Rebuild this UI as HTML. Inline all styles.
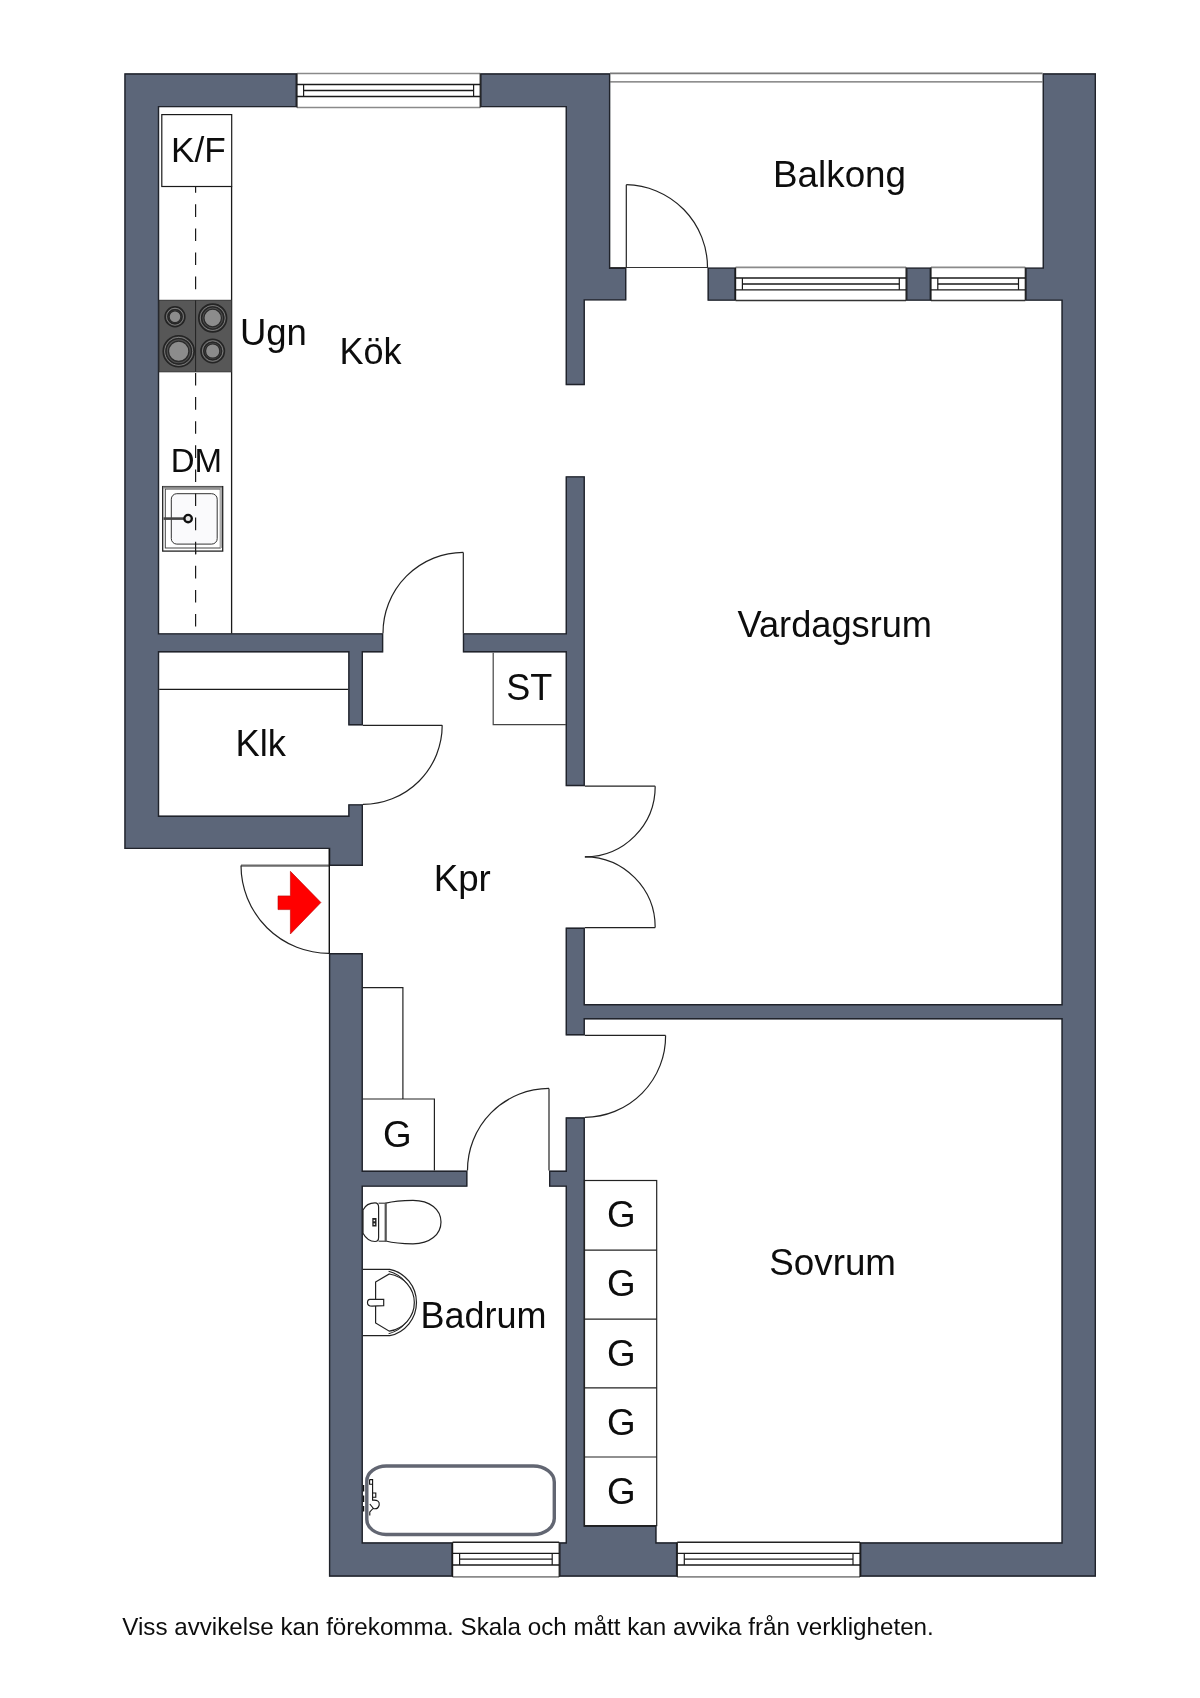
<!DOCTYPE html><html><head><meta charset="utf-8"><title>Floor plan</title>
<style>html,body{margin:0;padding:0;background:#fff;}body{width:1200px;height:1698px;overflow:hidden;}svg{display:block;}text{font-family:"Liberation Sans",sans-serif;fill:#0d0d0d;}</style></head><body>
<svg width="1200" height="1698" viewBox="0 0 1200 1698">
<rect width="1200" height="1698" fill="#fff"/>
<defs><clipPath id="wc"><path d="M124.30 73.30 L124.30 107.30 L124.30 815.60 L124.30 849.10 L159.20 849.10 L328.90 849.10 L328.90 866.00 L363.00 866.00 L363.00 849.10 L363.00 815.80 L363.00 815.60 L363.00 804.20 L348.20 804.20 L348.20 815.60 L328.90 815.60 L159.20 815.60 L159.20 652.50 L348.20 652.50 L348.20 725.50 L363.00 725.50 L363.00 652.50 L383.30 652.50 L383.30 633.20 L159.20 633.20 L159.20 107.30 L296.90 107.30 L296.90 73.30 L159.20 73.30 Z  M565.60 73.30 L480.20 73.30 L480.20 107.30 L565.60 107.30 L565.60 267.50 L565.60 300.60 L565.60 385.20 L584.90 385.20 L584.90 300.60 L626.40 300.60 L626.40 267.50 L610.30 267.50 L610.30 107.30 L610.30 73.30 Z  M565.60 652.50 L565.60 786.20 L584.90 786.20 L584.90 476.20 L565.60 476.20 L565.60 633.20 L462.80 633.20 L462.80 652.50 Z  M362.90 953.00 L328.90 953.00 L328.90 1542.30 L328.90 1576.70 L362.90 1576.70 L452.60 1576.70 L452.60 1542.30 L362.90 1542.30 L362.90 1186.80 L467.50 1186.80 L467.50 1170.60 L362.90 1170.60 Z  M549.00 1170.60 L549.00 1186.80 L565.60 1186.80 L565.60 1525.60 L565.60 1542.30 L559.20 1542.30 L559.20 1576.70 L565.60 1576.70 L656.60 1576.70 L677.30 1576.70 L677.30 1542.30 L656.60 1542.30 L656.60 1525.60 L584.90 1525.60 L584.90 1117.30 L565.60 1117.30 L565.60 1170.60 Z  M1096.00 73.30 L1042.60 73.30 L1042.60 267.40 L1025.30 267.40 L1025.30 300.80 L1042.60 300.80 L1061.40 300.80 L1061.40 1004.00 L584.90 1004.00 L584.90 927.60 L565.60 927.60 L565.60 1035.40 L584.90 1035.40 L584.90 1019.50 L1061.40 1019.50 L1061.40 1542.30 L860.00 1542.30 L860.00 1576.70 L1061.40 1576.70 L1096.00 1576.70 L1096.00 1542.30 L1096.00 300.80 L1096.00 267.40 Z  M707.50 267.40 L707.50 300.80 L735.60 300.80 L735.60 267.40 Z  M906.10 267.40 L906.10 300.80 L931.00 300.80 L931.00 267.40 Z " fill-rule="evenodd"/></clipPath></defs>
<path d="M124.30 73.30 L124.30 107.30 L124.30 815.60 L124.30 849.10 L159.20 849.10 L328.90 849.10 L328.90 866.00 L363.00 866.00 L363.00 849.10 L363.00 815.80 L363.00 815.60 L363.00 804.20 L348.20 804.20 L348.20 815.60 L328.90 815.60 L159.20 815.60 L159.20 652.50 L348.20 652.50 L348.20 725.50 L363.00 725.50 L363.00 652.50 L383.30 652.50 L383.30 633.20 L159.20 633.20 L159.20 107.30 L296.90 107.30 L296.90 73.30 L159.20 73.30 Z  M565.60 73.30 L480.20 73.30 L480.20 107.30 L565.60 107.30 L565.60 267.50 L565.60 300.60 L565.60 385.20 L584.90 385.20 L584.90 300.60 L626.40 300.60 L626.40 267.50 L610.30 267.50 L610.30 107.30 L610.30 73.30 Z  M565.60 652.50 L565.60 786.20 L584.90 786.20 L584.90 476.20 L565.60 476.20 L565.60 633.20 L462.80 633.20 L462.80 652.50 Z  M362.90 953.00 L328.90 953.00 L328.90 1542.30 L328.90 1576.70 L362.90 1576.70 L452.60 1576.70 L452.60 1542.30 L362.90 1542.30 L362.90 1186.80 L467.50 1186.80 L467.50 1170.60 L362.90 1170.60 Z  M549.00 1170.60 L549.00 1186.80 L565.60 1186.80 L565.60 1525.60 L565.60 1542.30 L559.20 1542.30 L559.20 1576.70 L565.60 1576.70 L656.60 1576.70 L677.30 1576.70 L677.30 1542.30 L656.60 1542.30 L656.60 1525.60 L584.90 1525.60 L584.90 1117.30 L565.60 1117.30 L565.60 1170.60 Z  M1096.00 73.30 L1042.60 73.30 L1042.60 267.40 L1025.30 267.40 L1025.30 300.80 L1042.60 300.80 L1061.40 300.80 L1061.40 1004.00 L584.90 1004.00 L584.90 927.60 L565.60 927.60 L565.60 1035.40 L584.90 1035.40 L584.90 1019.50 L1061.40 1019.50 L1061.40 1542.30 L860.00 1542.30 L860.00 1576.70 L1061.40 1576.70 L1096.00 1576.70 L1096.00 1542.30 L1096.00 300.80 L1096.00 267.40 Z  M707.50 267.40 L707.50 300.80 L735.60 300.80 L735.60 267.40 Z  M906.10 267.40 L906.10 300.80 L931.00 300.80 L931.00 267.40 Z " fill-rule="evenodd" fill="#5c6679" stroke="#20232b" stroke-width="2.8" clip-path="url(#wc)"/>
<rect x="297" y="73.5" width="183.2" height="34.0" fill="#fff"/>
<line x1="297" y1="73.5" x2="480.2" y2="73.5" stroke="#8a8a8a" stroke-width="1.6"/>
<line x1="297" y1="107.5" x2="480.2" y2="107.5" stroke="#8a8a8a" stroke-width="1.6"/>
<line x1="297" y1="84.5" x2="480.2" y2="84.5" stroke="#1a1a1a" stroke-width="1.3"/>
<line x1="297" y1="96.5" x2="480.2" y2="96.5" stroke="#1a1a1a" stroke-width="1.3"/>
<line x1="303.6" y1="90.5" x2="473.59999999999997" y2="90.5" stroke="#1a1a1a" stroke-width="1.3"/>
<line x1="303.6" y1="84.5" x2="303.6" y2="96.5" stroke="#1a1a1a" stroke-width="1.2"/>
<line x1="473.59999999999997" y1="84.5" x2="473.59999999999997" y2="96.5" stroke="#1a1a1a" stroke-width="1.2"/>
<line x1="297" y1="73.5" x2="297" y2="107.5" stroke="#1a1a1a" stroke-width="1.2"/>
<line x1="480.2" y1="73.5" x2="480.2" y2="107.5" stroke="#1a1a1a" stroke-width="1.2"/>
<rect x="735.6" y="267.4" width="170.5" height="33.10000000000002" fill="#fff"/>
<line x1="735.6" y1="267.4" x2="906.1" y2="267.4" stroke="#8a8a8a" stroke-width="1.6"/>
<line x1="735.6" y1="300.5" x2="906.1" y2="300.5" stroke="#333" stroke-width="1.6"/>
<line x1="735.6" y1="278" x2="906.1" y2="278" stroke="#1a1a1a" stroke-width="1.3"/>
<line x1="735.6" y1="289.8" x2="906.1" y2="289.8" stroke="#1a1a1a" stroke-width="1.3"/>
<line x1="742.4" y1="284" x2="899.3000000000001" y2="284" stroke="#1a1a1a" stroke-width="1.3"/>
<line x1="742.4" y1="278" x2="742.4" y2="289.8" stroke="#1a1a1a" stroke-width="1.2"/>
<line x1="899.3000000000001" y1="278" x2="899.3000000000001" y2="289.8" stroke="#1a1a1a" stroke-width="1.2"/>
<line x1="735.6" y1="267.4" x2="735.6" y2="300.5" stroke="#1a1a1a" stroke-width="1.2"/>
<line x1="906.1" y1="267.4" x2="906.1" y2="300.5" stroke="#1a1a1a" stroke-width="1.2"/>
<rect x="931" y="267.4" width="94.29999999999995" height="33.10000000000002" fill="#fff"/>
<line x1="931" y1="267.4" x2="1025.3" y2="267.4" stroke="#8a8a8a" stroke-width="1.6"/>
<line x1="931" y1="300.5" x2="1025.3" y2="300.5" stroke="#333" stroke-width="1.6"/>
<line x1="931" y1="278" x2="1025.3" y2="278" stroke="#1a1a1a" stroke-width="1.3"/>
<line x1="931" y1="289.8" x2="1025.3" y2="289.8" stroke="#1a1a1a" stroke-width="1.3"/>
<line x1="937.8" y1="284" x2="1018.5" y2="284" stroke="#1a1a1a" stroke-width="1.3"/>
<line x1="937.8" y1="278" x2="937.8" y2="289.8" stroke="#1a1a1a" stroke-width="1.2"/>
<line x1="1018.5" y1="278" x2="1018.5" y2="289.8" stroke="#1a1a1a" stroke-width="1.2"/>
<line x1="931" y1="267.4" x2="931" y2="300.5" stroke="#1a1a1a" stroke-width="1.2"/>
<line x1="1025.3" y1="267.4" x2="1025.3" y2="300.5" stroke="#1a1a1a" stroke-width="1.2"/>
<rect x="452.6" y="1542.3" width="106.60000000000002" height="34.600000000000136" fill="#fff"/>
<line x1="452.6" y1="1576.9" x2="559.2" y2="1576.9" stroke="#8a8a8a" stroke-width="1.6"/>
<line x1="452.6" y1="1542.3" x2="559.2" y2="1542.3" stroke="#222" stroke-width="1.6"/>
<line x1="452.6" y1="1565.0" x2="559.2" y2="1565.0" stroke="#1a1a1a" stroke-width="1.3"/>
<line x1="452.6" y1="1553.3" x2="559.2" y2="1553.3" stroke="#1a1a1a" stroke-width="1.3"/>
<line x1="459.6" y1="1559.2" x2="552.2" y2="1559.2" stroke="#1a1a1a" stroke-width="1.3"/>
<line x1="459.6" y1="1565.0" x2="459.6" y2="1553.3" stroke="#1a1a1a" stroke-width="1.2"/>
<line x1="552.2" y1="1565.0" x2="552.2" y2="1553.3" stroke="#1a1a1a" stroke-width="1.2"/>
<line x1="452.6" y1="1542.3" x2="452.6" y2="1576.9" stroke="#1a1a1a" stroke-width="1.2"/>
<line x1="559.2" y1="1542.3" x2="559.2" y2="1576.9" stroke="#1a1a1a" stroke-width="1.2"/>
<rect x="677.3" y="1542.3" width="182.70000000000005" height="34.600000000000136" fill="#fff"/>
<line x1="677.3" y1="1576.9" x2="860" y2="1576.9" stroke="#8a8a8a" stroke-width="1.6"/>
<line x1="677.3" y1="1542.3" x2="860" y2="1542.3" stroke="#222" stroke-width="1.6"/>
<line x1="677.3" y1="1565.0" x2="860" y2="1565.0" stroke="#1a1a1a" stroke-width="1.3"/>
<line x1="677.3" y1="1553.3" x2="860" y2="1553.3" stroke="#1a1a1a" stroke-width="1.3"/>
<line x1="684.3" y1="1559.2" x2="853" y2="1559.2" stroke="#1a1a1a" stroke-width="1.3"/>
<line x1="684.3" y1="1565.0" x2="684.3" y2="1553.3" stroke="#1a1a1a" stroke-width="1.2"/>
<line x1="853" y1="1565.0" x2="853" y2="1553.3" stroke="#1a1a1a" stroke-width="1.2"/>
<line x1="677.3" y1="1542.3" x2="677.3" y2="1576.9" stroke="#1a1a1a" stroke-width="1.2"/>
<line x1="860" y1="1542.3" x2="860" y2="1576.9" stroke="#1a1a1a" stroke-width="1.2"/>
<line x1="610" y1="73.4" x2="1042.6" y2="73.4" stroke="#7a7a7a" stroke-width="1.6"/>
<line x1="610" y1="81.9" x2="1042.6" y2="81.9" stroke="#6a6a6a" stroke-width="1.4"/>
<line x1="610" y1="267.5" x2="708" y2="267.5" stroke="#333" stroke-width="1.2"/>
<line x1="626.3" y1="267.5" x2="626.3" y2="184.7" stroke="#222" stroke-width="1.2"/><path d="M626.3 184.7 A82.8 82.8 0 0 1 707.5 267.5" fill="none" stroke="#222" stroke-width="1.2"/>
<line x1="463.3" y1="633.2" x2="463.3" y2="552.4" stroke="#222" stroke-width="1.2"/><path d="M463.3 552.4 A80.6 80.6 0 0 0 383.0 633.2" fill="none" stroke="#222" stroke-width="1.2"/>
<line x1="363.0" y1="725.3" x2="442.2" y2="725.3" stroke="#222" stroke-width="1.2"/><path d="M442.2 725.3 A79.1 79.1 0 0 1 363.0 804.3" fill="none" stroke="#222" stroke-width="1.2"/>
<line x1="241" y1="865.6" x2="329.2" y2="865.6" stroke="#6a6a6a" stroke-width="2.2"/>
<path d="M241 865.6 A88 88 0 0 0 329.2 953.3" fill="none" stroke="#222" stroke-width="1.2"/>
<line x1="329.3" y1="849.1" x2="329.3" y2="953.3" stroke="#111" stroke-width="1.4"/>
<line x1="584.9" y1="786.2" x2="655.2" y2="786.2" stroke="#222" stroke-width="1.2"/><path d="M655.2 786.2 A70.5 70.5 0 0 1 584.9 856.9" fill="none" stroke="#222" stroke-width="1.2"/>
<line x1="584.9" y1="927.6" x2="655.2" y2="927.6" stroke="#222" stroke-width="1.2"/><path d="M655.2 927.6 A70.5 70.5 0 0 0 584.9 856.9" fill="none" stroke="#222" stroke-width="1.2"/>
<line x1="584.9" y1="1035.4" x2="665.6" y2="1035.4" stroke="#222" stroke-width="1.2"/><path d="M665.6 1035.4 A81.3 81.3 0 0 1 584.9 1117.3" fill="none" stroke="#222" stroke-width="1.2"/>
<line x1="549" y1="1170.6" x2="549" y2="1088.4" stroke="#222" stroke-width="1.2"/><path d="M549 1088.4 A81.8 81.8 0 0 0 467.5 1170.6" fill="none" stroke="#222" stroke-width="1.2"/>
<g fill="none" stroke="#1a1a1a" stroke-width="1.2">
<rect x="161.8" y="114.6" width="69.9" height="71.9" fill="#fff"/>
</g>
<line x1="231.6" y1="186.5" x2="231.6" y2="633.5" stroke="#1a1a1a" stroke-width="1.3"/>
<line x1="195.6" y1="186.5" x2="195.6" y2="633.5" stroke="#1a1a1a" stroke-width="1.2" stroke-dasharray="12.6 11.5" stroke-dashoffset="6.3"/>
<rect x="159.2" y="300.3" width="72.3" height="71.5" fill="#575757" stroke="#333" stroke-width="1"/>
<line x1="195.6" y1="300.3" x2="195.6" y2="371.8" stroke="#222" stroke-width="1"/>
<circle cx="175.0" cy="316.7" r="9.899999999999999" fill="#4a4a4a" stroke="#242424" stroke-width="1.6"/><circle cx="175.0" cy="316.7" r="8.399999999999999" fill="none" stroke="#7c7c7c" stroke-width="1.0"/><circle cx="175.0" cy="316.7" r="7.1" fill="#505050" stroke="#262626" stroke-width="1.4"/><circle cx="175.0" cy="316.7" r="5.9" fill="#8c8c8c" stroke="#2a2a2a" stroke-width="1.3"/>
<circle cx="212.7" cy="318.0" r="13.899999999999999" fill="#4a4a4a" stroke="#242424" stroke-width="1.6"/><circle cx="212.7" cy="318.0" r="12.399999999999999" fill="none" stroke="#7c7c7c" stroke-width="1.0"/><circle cx="212.7" cy="318.0" r="11.1" fill="#505050" stroke="#262626" stroke-width="1.4"/><circle cx="212.7" cy="318.0" r="8.8" fill="#8c8c8c" stroke="#2a2a2a" stroke-width="1.3"/>
<circle cx="178.7" cy="351.3" r="15.5" fill="#4a4a4a" stroke="#242424" stroke-width="1.6"/><circle cx="178.7" cy="351.3" r="14.0" fill="none" stroke="#7c7c7c" stroke-width="1.0"/><circle cx="178.7" cy="351.3" r="12.700000000000001" fill="#505050" stroke="#262626" stroke-width="1.4"/><circle cx="178.7" cy="351.3" r="10.2" fill="#8c8c8c" stroke="#2a2a2a" stroke-width="1.3"/>
<circle cx="212.7" cy="351.0" r="11.7" fill="#4a4a4a" stroke="#242424" stroke-width="1.6"/><circle cx="212.7" cy="351.0" r="10.2" fill="none" stroke="#7c7c7c" stroke-width="1.0"/><circle cx="212.7" cy="351.0" r="8.9" fill="#505050" stroke="#262626" stroke-width="1.4"/><circle cx="212.7" cy="351.0" r="7.2" fill="#8c8c8c" stroke="#2a2a2a" stroke-width="1.3"/>
<rect x="162.7" y="486.6" width="60" height="64.5" fill="#fff" stroke="#222" stroke-width="1.3"/>
<rect x="165.3" y="489" width="55" height="59" fill="none" stroke="#444" stroke-width="1"/>
<line x1="163" y1="487.5" x2="222" y2="487.5" stroke="#888" stroke-width="2"/>
<line x1="221" y1="488" x2="221" y2="548" stroke="#aaa" stroke-width="2"/>
<rect x="171.3" y="493.7" width="45.9" height="50.4" rx="5.5" fill="#fafafc" stroke="#333" stroke-width="1"/>
<line x1="163.5" y1="518.6" x2="185" y2="518.6" stroke="#444" stroke-width="2.6"/>
<circle cx="188.1" cy="518.6" r="3.7" fill="#e8e8e8" stroke="#111" stroke-width="2.4"/>
<line x1="195.6" y1="486.6" x2="195.6" y2="560" stroke="#1a1a1a" stroke-width="1.2" stroke-dasharray="12.6 11.5" stroke-dashoffset="17.2"/>
<line x1="159.2" y1="689.3" x2="348.2" y2="689.3" stroke="#1a1a1a" stroke-width="1.3"/>
<path d="M493.2 652.7 V724.6 H566" fill="none" stroke="#444" stroke-width="1.2"/>
<path d="M362.7 987.6 H402.9 V1099" fill="none" stroke="#222" stroke-width="1.2"/>
<path d="M362.7 1099 H434.4 V1170.6" fill="none" stroke="#222" stroke-width="1.2"/>
<rect x="584.5" y="1180.5" width="72.2" height="345.1" fill="#fff" stroke="#222" stroke-width="1.2"/>
<line x1="584.5" y1="1250.1" x2="656.7" y2="1250.1" stroke="#222" stroke-width="1.2"/>
<line x1="584.5" y1="1319.2" x2="656.7" y2="1319.2" stroke="#222" stroke-width="1.2"/>
<line x1="584.5" y1="1387.8" x2="656.7" y2="1387.8" stroke="#222" stroke-width="1.2"/>
<line x1="584.5" y1="1457.0" x2="656.7" y2="1457.0" stroke="#222" stroke-width="1.2"/>
<path d="M385.8 1203.2 C395 1200.6 403 1200.3 413 1200.3 C430 1200.3 441 1209.5 441 1222 C441 1234.5 430 1243.8 413 1243.8 C403 1243.8 395 1243.5 385.8 1241 Z" fill="#fff" stroke="#222" stroke-width="1.2"/>
<path d="M375 1202.9 H375 Q378.6 1202.9 378.6 1207 V1237.5 Q378.6 1241.5 375 1241.5 C369 1241.5 365 1237 363 1233.3 V1210 C365 1206 369 1202.9 375 1202.9 Z" fill="#fff" stroke="#222" stroke-width="1.2"/>
<line x1="378.6" y1="1203.2" x2="385.8" y2="1203.2" stroke="#333" stroke-width="1.1"/>
<line x1="378.6" y1="1241.2" x2="385.8" y2="1241.2" stroke="#333" stroke-width="1.1"/>
<line x1="385.6" y1="1203" x2="385.6" y2="1241.5" stroke="#555" stroke-width="2.0"/>
<rect x="372.3" y="1218" width="4.2" height="8.5" fill="#222"/>
<rect x="373.6" y="1219.8" width="1.5" height="1.5" fill="#fff"/><rect x="373.6" y="1223.4" width="1.5" height="1.5" fill="#fff"/>
<path d="M363 1269.3 H389.8 A34 34 0 0 1 389.8 1335.7 H363" fill="#fff" stroke="#222" stroke-width="1.2"/>
<path d="M388.6 1271.3 A32.2 32.2 0 0 1 388.6 1333.7" fill="none" stroke="#222" stroke-width="1.1"/>
<path d="M375.6 1282.1 L389.3 1274 A30 29 0 0 1 389.3 1331.2 L375.6 1322.9 Z" fill="#fff" stroke="#222" stroke-width="1.2"/>
<path d="M370 1299.4 H383.7 V1305.6 L372 1306.2 Q367.5 1306.2 367.5 1302.8 Q367.5 1299.4 370 1299.4 Z" fill="#fff" stroke="#222" stroke-width="1.2"/>
<path d="M386.5 1466 H533 A21 16 0 0 1 554.3 1482 V1518.5 A21 16 0 0 1 533 1534.5 H386 A19.5 15 0 0 1 366.8 1519.5 V1481 A19.5 15 0 0 1 386.5 1466 Z" fill="none" stroke="#626672" stroke-width="3.4"/>
<path d="M369.6 1479.6 H372.6 V1500.2 Q380 1499.6 379.2 1505 Q378 1509.6 373.5 1508.6 L369.8 1504 M369.6 1479.6 V1484.2 H372.6 M372.6 1493 H375.8 V1497.2 H372.6 M373 1508.5 L369.8 1512 V1515.5" fill="none" stroke="#111" stroke-width="1.1"/>
<line x1="363.6" y1="1485" x2="363.6" y2="1511.5" stroke="#111" stroke-width="1.3" stroke-dasharray="6.5 4"/>
<path d="M278 895.9 H290.4 V871.3 L320.9 902.5 L290.4 934 V909.6 H278 Z" fill="#ff0000" stroke="#b00" stroke-width="0.6"/>
<filter id="nf" x="0" y="0" width="1200" height="1698" filterUnits="userSpaceOnUse"><feOffset dx="0" dy="0"/></filter><g filter="url(#nf)">
<text x="170.93" y="162" font-size="35.2">K/F</text>
<text x="239.88" y="344.9" font-size="36.5">Ugn</text>
<text x="339.52" y="363.5" font-size="36">Kök</text>
<text x="170.76" y="472" font-size="33.0">DM</text>
<text x="773.06" y="186.7" font-size="36.8">Balkong</text>
<text x="737.54" y="637.1" font-size="36.2">Vardagsrum</text>
<text x="506.20" y="700.3" font-size="36">ST</text>
<text x="235.60" y="755.6" font-size="36.3">Klk</text>
<text x="433.76" y="890.7" font-size="36.7">Kpr</text>
<text x="382.96" y="1147.2" font-size="36.8">G</text>
<text x="606.96" y="1227.3" font-size="36.8">G</text>
<text x="606.96" y="1296.4" font-size="36.8">G</text>
<text x="606.96" y="1365.5" font-size="36.8">G</text>
<text x="606.96" y="1434.6" font-size="36.8">G</text>
<text x="606.96" y="1503.7" font-size="36.8">G</text>
<text x="420.42" y="1327.6" font-size="36">Badrum</text>
<text x="769.26" y="1275" font-size="36.8">Sovrum</text>
<text x="122.26" y="1634.6" font-size="24.2">Viss avvikelse kan förekomma. Skala och mått kan avvika från verkligheten.</text>
</g>
</svg></body></html>
